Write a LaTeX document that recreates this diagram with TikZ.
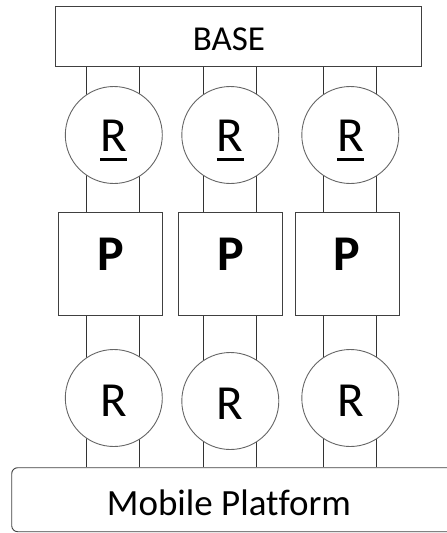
\documentclass[tikz,border=0pt]{standalone}
\usepackage{fontspec}
\setmainfont{Carlito}[Ligatures=NoCommon]
\usetikzlibrary{calc,backgrounds}

\newcommand{\underR}[1]{\setbox0\hbox{#1}\rlap{\rule[-9pt]{\wd0}{2.7pt}}\box0}

\begin{document}
\begin{tikzpicture}[x=1pt, y=-1pt,
    frame/.style={draw=black!75, line width=0.9pt, fill=white, inner sep=0pt},
    joint/.style={circle, draw=black!60, line width=0.9pt, fill=white, inner sep=0pt, minimum size=97pt},
    leg/.style={draw=black!80, line width=0.9pt},
    revtop/.style={joint, font=\fontsize{49}{50}\selectfont, text height=42pt, text depth=9pt},
    revbot/.style={joint, font=\fontsize{49}{50}\selectfont, text height=36pt, text depth=0pt},
    prism/.style={frame, minimum width=104pt, minimum height=103pt, font=\bfseries\fontsize{50}{52}\selectfont, text height=32pt, text depth=18pt}]
  \useasboundingbox (0,0) rectangle (447,533);

  % base and platform
  \node[frame, minimum width=366pt, minimum height=60pt] (base) at (238.3,36.7) {};
  \node[anchor=base, font=\fontsize{35}{40}\selectfont] (basetxt) at (229,50.5) {BASE};
  \node[frame, rounded corners=6pt, minimum width=468pt, minimum height=64pt] (plat) at (245.7,499.7) {};
  \node[anchor=base, font=\fontsize{37}{40}\selectfont] (plattxt) at (229,515) {Mobile Platform};

  % three legs
  \node[revtop] (ra1) at (113.8,135) {\underR{R}};
  \node[revtop] (ra2) at (230.3,135) {\underR{R}};
  \node[revtop] (ra3) at (350.3,135) {\underR{R}};
  \node[prism] (p1) at (110.7,263.7) {P};
  \node[prism] (p2) at (230.7,263.7) {P};
  \node[prism] (p3) at (347.3,263.7) {P};
  \node[revbot] (rb1) at (113.8,398) {R};
  \node[revbot] (rb2) at (230.3,401) {R};
  \node[revbot] (rb3) at (350.3,398) {R};

  \begin{scope}[on background layer]
    \foreach \i in {1,2,3} {
      \draw[leg] ($(ra\i.center |- base.south)+(-27,0)$) -- ($(ra\i.center |- plat.north)+(-27,0)$);
      \draw[leg] ($(ra\i.center |- base.south)+(26,0)$) -- ($(ra\i.center |- plat.north)+(26,0)$);
    }
  \end{scope}
\end{tikzpicture}
\end{document}
